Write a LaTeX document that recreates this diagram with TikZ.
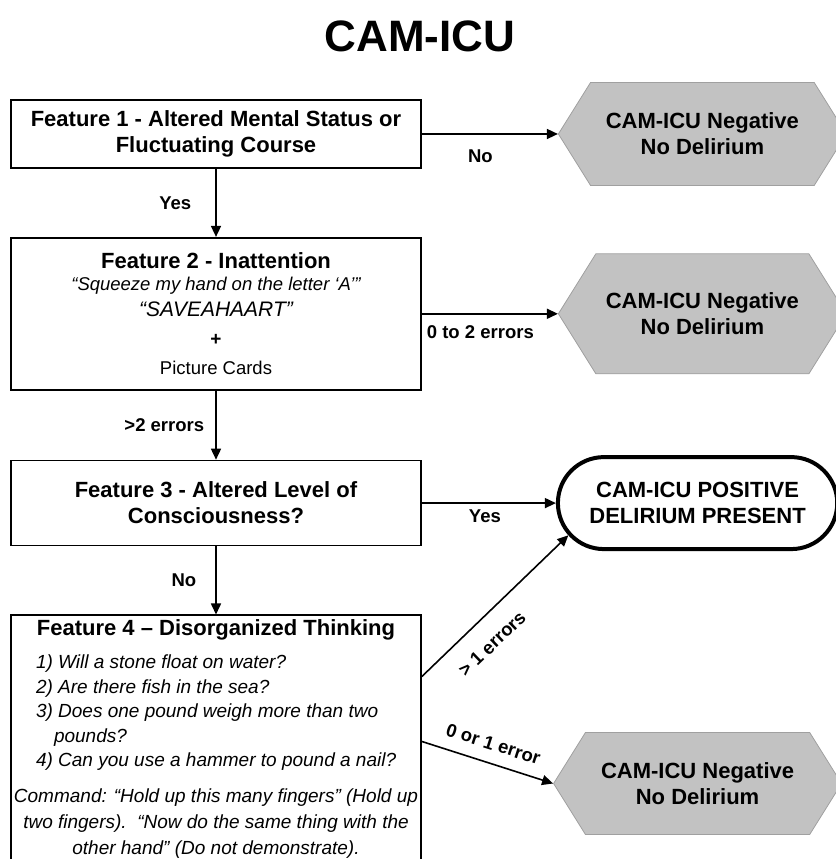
\documentclass[tikz,border=0pt]{standalone}
\usepackage{fontspec}
\setmainfont{Liberation Sans}
\usetikzlibrary{arrows.meta,positioning,calc,shapes.symbols,shapes.misc}
\definecolor{hexgrey}{RGB}{194,194,194}
\definecolor{hexline}{RGB}{160,160,160}
\newcommand{\hd}{\bfseries\fontsize{22}{26}\selectfont}
\newcommand{\qfont}{\mdseries\itshape\fontsize{19}{24.5}\selectfont}
\newcommand{\cmdline}[1]{\hbox to\hsize{\hss #1\hss}}

\begin{document}
\begin{tikzpicture}[
  x=1pt, y=1pt,
  box/.style={draw, line width=1.8pt, minimum width=410pt, align=center, font=\hd, inner sep=4pt},
  negbox/.style={shape=signal, signal to=west and east, signal pointer angle=116, draw=hexline, fill=hexgrey, line width=0.8pt, minimum width=288pt, minimum height=103pt, align=center, font=\hd},
  endbox/.style={rounded rectangle, draw, line width=4pt, minimum width=286pt, minimum height=92pt, align=center, font=\hd},
  arrow/.style={-{Triangle[length=11pt,width=10pt]}, line width=1.6pt},
  lbl/.style={font=\bfseries\fontsize{18.5}{22}\selectfont, inner sep=0pt},
]
  \useasboundingbox (0,0) rectangle (835,859);
  \node[font=\bfseries\fontsize{44}{48}\selectfont] (title) at (420,823) {CAM-ICU};

  % left column
  \node[box, minimum height=68pt] (feat1) at (216,725) {Feature 1 - Altered Mental Status or\\Fluctuating Course};
  \node[box, below=68pt of feat1, minimum height=152pt] (feat2) {Feature 2 - Inattention\\[-4pt]
    {\mdseries\itshape\fontsize{18.5}{22}\selectfont “Squeeze my hand on the letter ‘A’”}\\[0pt]
    {\mdseries\itshape\fontsize{21}{24}\selectfont “SAVEAHAART”}\\[3pt]
    {\fontsize{19}{22}\selectfont +}\\[3pt]
    {\mdseries\fontsize{18.5}{22}\selectfont Picture Cards}};
  \node[box, below=69pt of feat2, minimum height=85pt] (feat3) {Feature 3 - Altered Level of\\Consciousness?};
  \node[box, below=68pt of feat3, text width=404pt, inner xsep=3pt, inner ysep=4pt, align=left] (feat4) {%
    \spaceskip=0pt\xspaceskip=0pt
    {\centering Feature 4 – Disorganized Thinking\par}
    \vspace{9pt}
    {\qfont\parindent=0pt\parskip=0pt\leftskip=22pt\rightskip=0pt plus 1fil
    1) Will a stone float on water?\par
    2) Are there fish in the sea?\par
    3) Does one pound weigh more than two\par
    \hspace*{18pt}pounds?\par
    4) Can you use a hammer to pound a nail?\par}
    \vspace{10pt}
    {\mdseries\itshape\fontsize{19}{26}\selectfont\parskip=0pt
    \cmdline{Command: “Hold up this many fingers” (Hold up}
    \cmdline{two fingers).\ \ “Now do the same thing with the}
    \cmdline{other hand” (Do not demonstrate).}\par}};

  % right column
  \node[negbox, right=136pt of feat1] (neg1) {CAM-ICU Negative\\No Delirium};
  \node[negbox, right=136pt of feat2, minimum height=120pt] (neg2) {CAM-ICU Negative\\No Delirium};
  \node[endbox, right=134pt of feat3] (positive) {CAM-ICU POSITIVE\\DELIRIUM PRESENT};
  \node[negbox, below=181pt of positive, minimum height=102pt] (neg3) {CAM-ICU Negative\\No Delirium};

  % connectors
  \draw[arrow] (feat1) -- (feat2) node[lbl, midway, left=24pt] {Yes};
  \draw[arrow] (feat2) -- (feat3) node[lbl, midway, left=11pt] {>2 errors};
  \draw[arrow] (feat3) -- (feat4) node[lbl, midway, left=19pt] {No};
  \draw[arrow] (feat1) -- (neg1.west) node[lbl, pos=0.43, below=15pt] {No};
  \draw[arrow] (feat2) -- (neg2.west) node[lbl, pos=0.43, below=11pt] {0 to 2 errors};
  \draw[arrow] (feat3) -- (positive) node[lbl, pos=0.47, below=6pt] {Yes};
  \coordinate (f4hi) at ($(feat4.north east)+(0,-62)$);
  \coordinate (f4lo) at ($(feat4.north east)+(0,-127)$);
  \draw[arrow] (f4hi) -- (positive.194) node[lbl, sloped, pos=0.36, below=18pt] {> 1 errors};
  \draw[arrow] (f4lo) -- (neg3.west) node[lbl, sloped, pos=0.5, above=12pt] {0 or 1 error};
\end{tikzpicture}
\end{document}
